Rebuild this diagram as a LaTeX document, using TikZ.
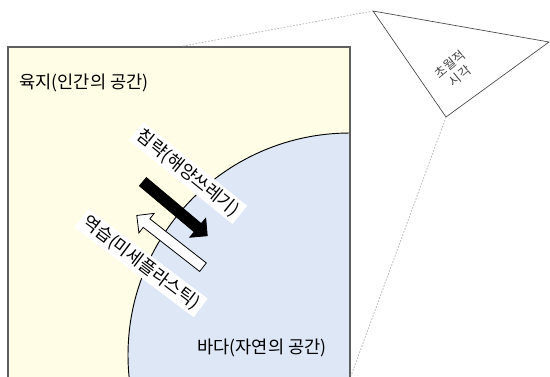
\documentclass[tikz,border=0pt]{standalone}
\usepackage{fontspec}
\newfontfamily\kr{Noto Sans CJK KR}
\usetikzlibrary{shapes.arrows}
\definecolor{land}{RGB}{255,253,230}
\definecolor{sea}{RGB}{222,231,246}
\definecolor{frame}{RGB}{95,95,95}
\definecolor{guide}{RGB}{185,185,185}
\definecolor{eyeink}{RGB}{70,70,70}
\begin{document}
\begin{tikzpicture}[x=0.75pt,y=-0.75pt,
  lbl/.style={font=\kr\fontsize{13.2}{16}\selectfont, inner sep=0pt},
  tag/.style={lbl, fill=white, inner xsep=3pt, inner ysep=2pt},
  bigarrow/.style={single arrow, draw=black, line width=0.6pt, minimum height=63pt,
    minimum width=0pt, inner sep=3.75pt, single arrow head extend=5.25pt},
  guideline/.style={guide, line width=0.6pt, dash pattern=on 1.2pt off 1.2pt},
  eyeline/.style={eyeink, line width=0.5pt}]
\useasboundingbox (0,0) rectangle (550,376);
\coordinate (R1) at (8,47);
\coordinate (R2) at (350,380);
\fill[land] (R1) rectangle (R2);
\begin{scope}
  \clip (R1) rectangle (R2);
  \filldraw[fill=sea, draw=black, line width=0.7pt] (350,355) circle[radius=222];
\end{scope}
\draw[frame, line width=1.1pt] (8,380) -- (8,47) -- (350,47) -- (350,380);

\node[tag, rotate=-39] (t1) at (188,173) {침략(해양쓰레기)};
\node[tag, rotate=-37] (t2) at (141,263) {역습(미세플라스틱)};
\node[bigarrow, fill=black, rotate=-40] (invade) at (173,207) {};
\node[bigarrow, fill=white, rotate=142] (counter) at (172,243) {};

\node[lbl] (landlbl) at (84,83) {육지(인간의 공간)};
\node[lbl] (sealbl) at (262,348) {바다(자연의 공간)};

\coordinate (E1) at (373,11);
\coordinate (E2) at (549,42);
\coordinate (E3) at (446,117);
\draw[eyeline] (E1) -- (E2) -- (E3) -- cycle;
\node[font=\kr\fontsize{9.6}{11.5}\selectfont, text=eyeink, align=center, rotate=40, inner sep=0pt] (view) at (455,70) {초월적\\시각};

\coordinate (G1) at (183,46);
\coordinate (G2) at (351,376);
\draw[guideline] (G1) -- (E1);
\draw[guideline] (E3) -- (G2);
\end{tikzpicture}
\end{document}
